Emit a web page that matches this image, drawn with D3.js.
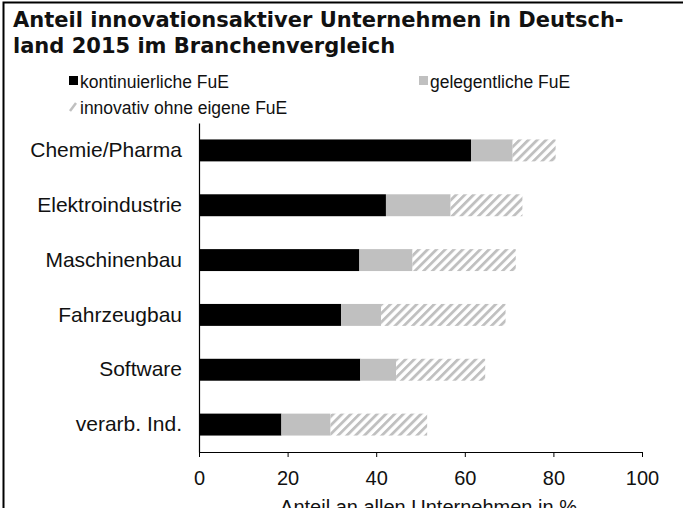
<!DOCTYPE html>
<html>
<head>
<meta charset="utf-8">
<script src="https://cdn.jsdelivr.net/npm/d3@7"></script>
<style>
    body { margin: 0; background: #fff; }
    text { font-family: "Liberation Sans", Arial, sans-serif; fill: #111; }
    .title { font-family: "DejaVu Sans", Verdana, sans-serif; font-weight: bold; font-size: 21px; }
</style>
</head>
<body>
<div id="chart"></div>
<script>
var categories = ["Chemie/Pharma", "Elektroindustrie", "Maschinenbau", "Fahrzeugbau", "Software", "verarb. Ind."];
var kontinuierlich = [61.4, 42.2, 36.2, 32.1, 36.4, 18.6];
var gelegentlich = [9.4, 14.6, 12.0, 9.0, 8.1, 11.1];
var ohneFuE = [9.7, 16.2, 23.3, 28.1, 20.1, 21.8];
var seriesNames = ["kontinuierliche FuE", "gelegentliche FuE", "innovativ ohne eigene FuE"];
var xTicks = [0, 20, 40, 60, 80, 100];
var titleLines = ["Anteil innovationsaktiver Unternehmen in Deutsch-", "land 2015 im Branchenvergleich"];
var axisTitle = "Anteil an allen Unternehmen in %";

var width = 683, height = 508;
var margin = { top: 123, right: 41, bottom: 56, left: 199 };

var svg = d3.select("#chart").append("svg")
    .attr("width", width)
    .attr("height", height);

// hatch pattern for "ohne eigene FuE"
var defs = svg.append("defs");
var pat = defs.append("pattern")
    .attr("id", "hatch")
    .attr("patternUnits", "userSpaceOnUse")
    .attr("width", 6.2)
    .attr("height", 10)
    .attr("patternTransform", "rotate(45)");
pat.append("rect").attr("width", 6.2).attr("height", 10).attr("fill", "#fff");
pat.append("rect").attr("width", 2.8).attr("height", 10).attr("fill", "#c0c0c0");

var colors = ["#000000", "#c0c0c0", "url(#hatch)"];

// frame (left + top only, rest is cropped)
svg.append("path")
    .attr("d", "M3.5," + height + "V2.5H" + width)
    .attr("fill", "none")
    .attr("stroke", "#000")
    .attr("stroke-width", 2);

// title
svg.selectAll(".title")
    .data(titleLines)
    .enter().append("text")
    .attr("class", "title")
    .attr("x", 13)
    .attr("y", function(d, i) { return 27 + i * 26; })
    .text(function(d) { return d; });

// legend
var legendPos = [{ x: 69, y: 81 }, { x: 419, y: 81 }, { x: 69, y: 107 }];
var legend = svg.selectAll(".legend")
    .data(seriesNames)
    .enter().append("g")
    .attr("class", "legend")
    .attr("transform", function(d, i) { return "translate(" + legendPos[i].x + "," + legendPos[i].y + ")"; });

legend.filter(function(d, i) { return i < 2; })
    .append("rect")
    .attr("x", 0).attr("y", -5)
    .attr("width", 9).attr("height", 9)
    .attr("fill", function(d, i) { return colors[i]; });

legend.filter(function(d, i) { return i == 2; })
    .append("line")
    .attr("x1", 1).attr("y1", 4)
    .attr("x2", 7).attr("y2", -4)
    .attr("stroke", "#c0c0c0")
    .attr("stroke-width", 2.5);

legend.append("text")
    .attr("x", 11)
    .attr("y", 6.5)
    .attr("font-size", 17.5)
    .text(function(d) { return d; });

// scales
var x = d3.scaleLinear()
    .domain([0, 100])
    .range([margin.left, width - margin.right]);

var y = d3.scaleBand()
    .domain(categories)
    .range([margin.top, 452])
    .paddingInner(0.6)
    .paddingOuter(0.3);

// stacked data
var rows = categories.map(function(c, i) {
    return { cat: c, a: kontinuierlich[i], b: gelegentlich[i], c: ohneFuE[i] };
});
var stacked = d3.stack().keys(["a", "b", "c"])(rows);

svg.selectAll(".series")
    .data(stacked)
    .enter().append("g")
    .attr("class", "series")
    .attr("fill", function(d, i) { return colors[i]; })
    .selectAll("rect")
    .data(function(d) { return d; })
    .enter().append("rect")
    .attr("x", function(d) { return x(d[0]); })
    .attr("y", function(d) { return y(d.data.cat); })
    .attr("width", function(d) { return x(d[1]) - x(d[0]); })
    .attr("height", y.bandwidth());

// axes
var yAxisG = svg.append("g")
    .attr("transform", "translate(" + margin.left + ",0)")
    .call(d3.axisLeft(y).tickSize(0).tickPadding(17));
yAxisG.select(".domain").attr("stroke", "#000").attr("stroke-width", 1.2);
yAxisG.selectAll("text").attr("font-size", 21).attr("font-family", "Liberation Sans, Arial, sans-serif").attr("fill", "#111");

var xAxisG = svg.append("g")
    .attr("transform", "translate(0," + y.range()[1] + ")")
    .call(d3.axisBottom(x).tickValues(xTicks).tickSize(5).tickSizeOuter(0).tickPadding(14));
xAxisG.select(".domain").attr("stroke", "#000").attr("stroke-width", 1.2);
xAxisG.selectAll(".tick line").attr("stroke", "#000");
xAxisG.selectAll("text").attr("font-size", 20).attr("font-family", "Liberation Sans, Arial, sans-serif").attr("fill", "#111");

// axis title, mostly cut off at the bottom edge like in the original
svg.append("text")
    .attr("x", (x(0) + x(100)) / 2 + 8)
    .attr("y", 514)
    .attr("text-anchor", "middle")
    .attr("font-size", 20)
    .text(axisTitle);
</script>
</body>
</html>
